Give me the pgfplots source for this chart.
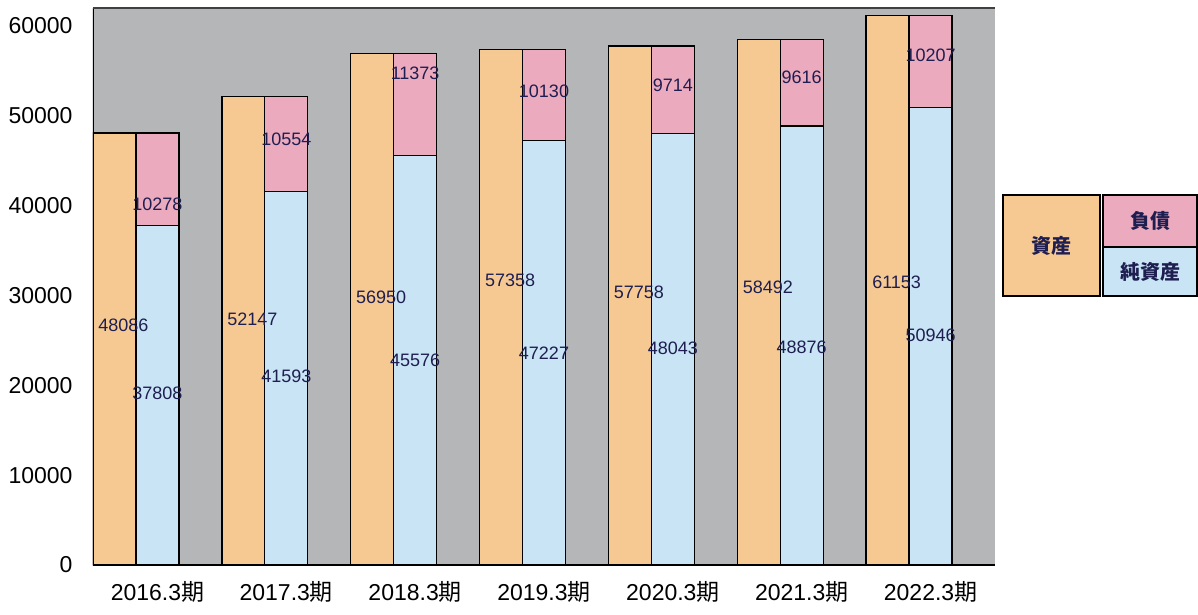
\documentclass[border=0pt]{standalone}
\usepackage{pgfplots}
\pgfplotsset{compat=1.18}
\usepackage{pgfplotstable}
\usepackage{fontspec}
\setmainfont{Liberation Sans}
\newfontfamily\jp{Noto Sans CJK JP}

\definecolor{bggray}{RGB}{181,182,184}
\definecolor{casset}{RGB}{246,201,146}
\definecolor{cliab}{RGB}{236,170,190}
\definecolor{cnet}{RGB}{200,228,245}
\definecolor{lbl}{RGB}{30,30,80}

% i, assets, liabilities, net assets, label heights
\pgfplotstableread{
i asset liab  net   al    ll    nl
0 48086 10278 37808 26700 40200 19100
1 52147 10554 41593 27300 47400 21000
2 56950 11373 45576 29800 54700 22800
3 57358 10130 47227 31700 52700 23600
4 57758 9714  48043 30300 53400 24100
5 58492 9616  48876 30900 54300 24200
6 61153 10207 50946 31500 56700 25600
}\data

\begin{document}
\begin{tikzpicture}
\useasboundingbox (-93pt,-50pt) rectangle (1105pt,565pt);
\begin{axis}[
  scale only axis,
  width=902pt, height=557pt,
  xmin=-0.3333, xmax=6.6667,
  ymin=0, ymax=62000,
  axis background/.style={fill=bggray},
  axis line style={draw=none},
  tick style={draw=none},
  xtick={0.1667,1.1667,2.1667,3.1667,4.1667,5.1667,6.1667},
  xticklabels={2016.3{\jp 期},2017.3{\jp 期},2018.3{\jp 期},2019.3{\jp 期},2020.3{\jp 期},2021.3{\jp 期},2022.3{\jp 期}},
  ytick={0,10000,20000,30000,40000,50000,60000},
  yticklabels={0,10000,20000,30000,40000,50000,60000},
  ticklabel style={font=\fontsize{23}{23}\selectfont},
  yticklabel style={xshift=-17pt},
  xticklabel style={yshift=-13pt},
  every node near coord/.append style={anchor=center, text=lbl,
    font=\fontsize{18}{18}\selectfont, inner sep=0pt},
]
% assets
\addplot[ybar, bar width=0.3333, bar shift=0pt, fill=casset, draw=black, line width=1.3pt]
  table[x expr=\thisrow{i}-0.1667, y=asset] {\data};
% liabilities on top of net assets (full stack height)
\addplot[ybar, bar width=0.3333, bar shift=0pt, fill=cliab, draw=black, line width=1.3pt]
  table[x expr=\thisrow{i}+0.1667, y expr=\thisrow{net}+\thisrow{liab}] {\data};
% net assets
\addplot[ybar, bar width=0.3333, bar shift=0pt, fill=cnet, draw=black, line width=1.3pt]
  table[x expr=\thisrow{i}+0.1667, y=net] {\data};
% value labels
\addplot[draw=none, nodes near coords, point meta=explicit symbolic]
  table[x expr=\thisrow{i}-0.1667+0.07, y=al, meta=asset] {\data};
\addplot[draw=none, nodes near coords, point meta=explicit symbolic]
  table[x expr=\thisrow{i}+0.1667, y=ll, meta=liab] {\data};
\addplot[draw=none, nodes near coords, point meta=explicit symbolic]
  table[x expr=\thisrow{i}+0.1667, y=nl, meta=net] {\data};
% frame lines
\draw[black, line width=1.2pt] (rel axis cs:0,0) -- (rel axis cs:0,1);
\draw[black!75, line width=1.2pt] (rel axis cs:0,1) -- (rel axis cs:1,1);
\draw[black, line width=2pt] (rel axis cs:0,0) -- (rel axis cs:1,0);
\end{axis}
% legend
\begin{scope}[line width=1.2pt, font=\jp\bfseries\fontsize{20}{20}\selectfont, text=lbl]
\draw[fill=casset] (910pt,269pt) rectangle (1007pt,370pt);
\node at (958.5pt,319.5pt) {資産};
\draw[fill=cliab] (1010pt,318pt) rectangle (1104pt,370pt);
\node at (1057pt,344pt) {負債};
\draw[fill=cnet] (1010pt,269pt) rectangle (1104pt,318pt);
\node at (1057pt,293.5pt) {純資産};
\end{scope}
\end{tikzpicture}
\end{document}
